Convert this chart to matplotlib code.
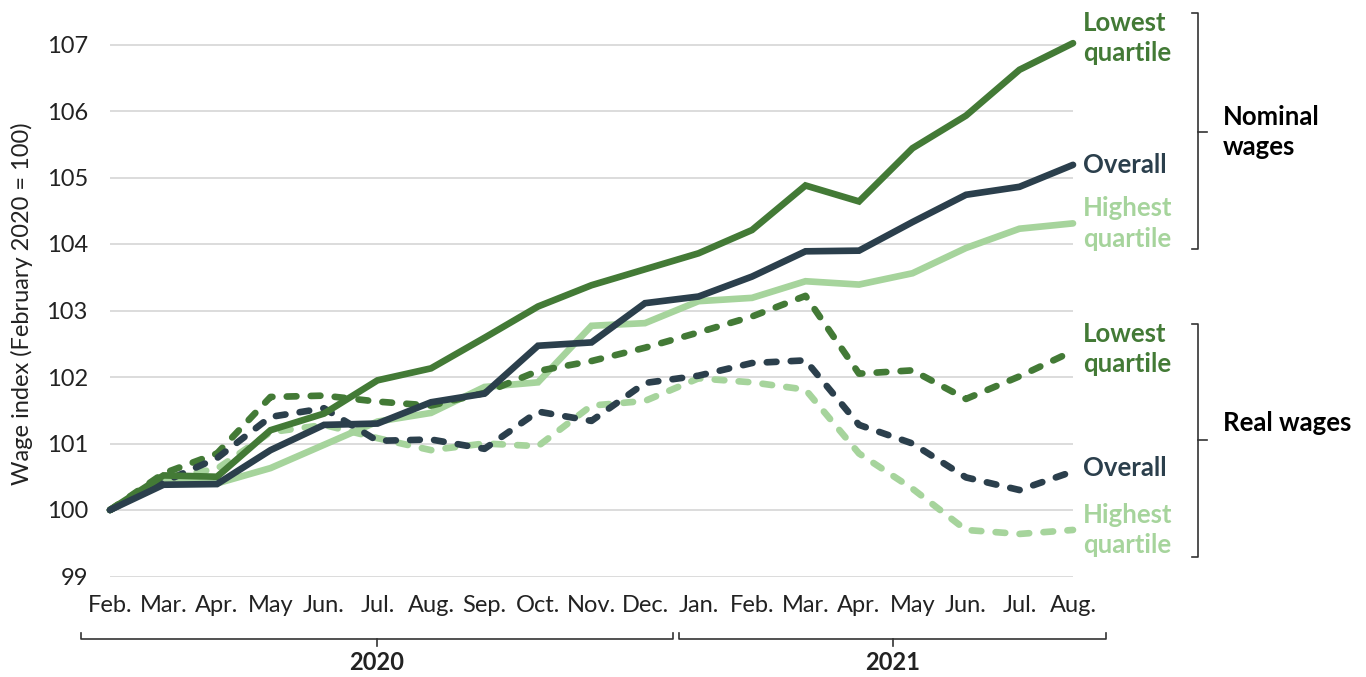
"""Nominal and real wage index by quartile, Feb 2020 - Aug 2021."""

import matplotlib.pyplot as plt
from matplotlib.transforms import blended_transform_factory

plt.rcParams["font.family"] = ["Lato", "DejaVu Sans"]

months = ["Feb.", "Mar.", "Apr.", "May", "Jun.", "Jul.", "Aug.", "Sep.", "Oct.",
          "Nov.", "Dec.", "Jan.", "Feb.", "Mar.", "Apr.", "May", "Jun.", "Jul.", "Aug."]
years = ["2020", "2021"]

nominal_lowest = [100, 100.52, 100.50, 101.20, 101.45, 101.95, 102.13, 102.59, 103.06, 103.38,
                  103.62, 103.86, 104.21, 104.88, 104.64, 105.44, 105.93, 106.62, 107.02]
nominal_overall = [100, 100.38, 100.39, 100.90, 101.28, 101.30, 101.62, 101.75, 102.47, 102.52,
                   103.11, 103.21, 103.51, 103.89, 103.90, 104.33, 104.74, 104.86, 105.19]
nominal_highest = [100, 100.45, 100.40, 100.63, 100.98, 101.33, 101.46, 101.85, 101.92, 102.77,
                   102.81, 103.14, 103.19, 103.44, 103.39, 103.56, 103.94, 104.23, 104.31]
real_lowest = [100, 100.55, 100.85, 101.70, 101.72, 101.63, 101.57, 101.76, 102.09, 102.24,
               102.44, 102.67, 102.91, 103.22, 102.05, 102.10, 101.67, 102.01, 102.39]
real_overall = [100, 100.42, 100.78, 101.40, 101.53, 101.04, 101.06, 100.92, 101.48, 101.34,
                101.91, 102.02, 102.21, 102.25, 101.28, 101.00, 100.49, 100.30, 100.58]
real_highest = [100, 100.48, 100.62, 101.17, 101.28, 101.08, 100.90, 101.00, 100.96, 101.57,
                101.64, 101.98, 101.92, 101.81, 100.85, 100.32, 99.70, 99.64, 99.70]

DARK_GREEN = "#437A36"
LIGHT_GREEN = "#A6D49C"
SLATE = "#2B3F4C"

fig = plt.figure(figsize=(13.66, 6.77), dpi=100)
ax = fig.add_axes([110 / 1366, 1 - 576.5 / 677, 963 / 1366, 545.3 / 677])

x = list(range(len(months)))
line_kw = {"linewidth": 4.8, "solid_capstyle": "round", "dash_capstyle": "round",
           "solid_joinstyle": "miter", "clip_on": False}
dash = (1.45, 2.15)

# solid = nominal, dashed = real
ax.plot(x, nominal_highest, color=LIGHT_GREEN, **line_kw)
ax.plot(x, real_highest, color=LIGHT_GREEN, dashes=dash, **line_kw)
ax.plot(x, real_lowest, color=DARK_GREEN, dashes=dash, **line_kw)
ax.plot(x, real_overall, color=SLATE, dashes=dash, **line_kw)
ax.plot(x, nominal_lowest, color=DARK_GREEN, **line_kw)
ax.plot(x, nominal_overall, color=SLATE, **line_kw)

ax.set_xlim(0, len(months) - 1)
ax.set_ylim(99, 107.2)
ax.set_yticks(range(99, 108))
ax.set_xticks(x)
ax.set_xticklabels(months)
ax.tick_params(axis="both", length=0, labelsize=17, colors="#222222")
ax.tick_params(axis="y", pad=16)
ax.tick_params(axis="x", pad=13)
ax.grid(axis="y", color="#D9D9D9", linewidth=1.3)
ax.set_axisbelow(True)
for spine in ax.spines.values():
    spine.set_visible(False)

ax.set_ylabel("Wage index (February 2020 = 100)", fontsize=17, color="#222222")
ax.yaxis.set_label_coords(-0.08, 0.5)

# series labels at line ends
series_labels = [
    (nominal_lowest, "Lowest\nquartile", DARK_GREEN, 5),
    (nominal_overall, "Overall", SLATE, 0),
    (nominal_highest, "Highest\nquartile", LIGHT_GREEN, 0),
    (real_lowest, "Lowest\nquartile", DARK_GREEN, 2),
    (real_overall, "Overall", SLATE, 3),
    (real_highest, "Highest\nquartile", LIGHT_GREEN, 0),
]
for values, label, color, dy in series_labels:
    ax.annotate(label, (x[-1], values[-1]), xytext=(10, dy), textcoords="offset pixels",
                ha="left", va="center", fontsize=18.5, fontweight="bold", color=color,
                linespacing=1.32, annotation_clip=False)

# right-hand brackets: nominal and real
bt = blended_transform_factory(ax.transAxes, ax.transData)
for top, bottom, mid, text, dy in [(107.47, 103.92, 105.68, "Nominal\nwages", 0.0),
                                  (102.80, 99.29, 101.05, "Real wages", 0.26)]:
    ax.plot([1.1235, 1.13, 1.13, 1.1235], [top, top, bottom, bottom], color="#333333",
            linewidth=1.2, transform=bt, clip_on=False)
    ax.plot([1.13, 1.139], [mid, mid], color="#333333", linewidth=1.2, transform=bt,
            clip_on=False)
    ax.text(1.156, mid + dy, text, transform=bt, ha="left", va="center", fontsize=18.5,
            fontweight="bold", color="black", linespacing=1.32)

# year brackets under the month labels
yb = blended_transform_factory(ax.transData, ax.transAxes)
for left, right, year in [(-0.54, 10.52, years[0]), (10.64, 18.62, years[1])]:
    mid = (left + right) / 2
    ax.plot([left, left, right, right], [-0.104, -0.1146, -0.1146, -0.104], color="#333333",
            linewidth=1.2, transform=yb, clip_on=False)
    ax.plot([mid, mid], [-0.1146, -0.128], color="#333333", linewidth=1.2, transform=yb,
            clip_on=False)
    ax.text(mid, -0.158, year, transform=yb, ha="center", va="center", fontsize=17,
            fontweight="bold", color="#222222")

fig.savefig("out.png", dpi=100)
plt.close(fig)
